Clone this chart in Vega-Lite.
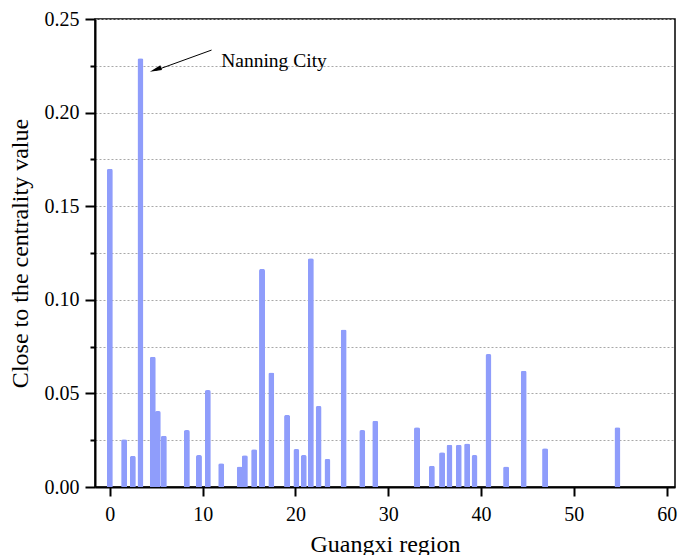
{
  "$schema": "https://vega.github.io/schema/vega-lite/v6.json",
  "width": 580,
  "height": 468,
  "autosize": "none",
  "padding": {"left": 95, "top": 19, "right": 3, "bottom": 68},
  "background": "white",
  "config": {
    "font": "Liberation Serif",
    "view": {"stroke": "black", "strokeWidth": 1.5},
    "axis": {
      "labelFont": "Liberation Serif",
      "titleFont": "Liberation Serif",
      "labelColor": "black",
      "titleColor": "black",
      "titleFontWeight": "normal",
      "domainColor": "black",
      "tickColor": "black",
      "domainWidth": 2,
      "tickWidth": 2
    }
  },
  "datasets": {
    "bars": [
      {"region": 0.0, "value": 0.170},
      {"region": 1.54, "value": 0.0255},
      {"region": 2.48, "value": 0.0166},
      {"region": 3.3, "value": 0.229},
      {"region": 4.63, "value": 0.0696},
      {"region": 5.17, "value": 0.0406},
      {"region": 5.82, "value": 0.0274},
      {"region": 8.3, "value": 0.0304},
      {"region": 9.6, "value": 0.0171},
      {"region": 10.56, "value": 0.0518},
      {"region": 12.0, "value": 0.0127},
      {"region": 14.0, "value": 0.0109},
      {"region": 14.55, "value": 0.0169},
      {"region": 15.55, "value": 0.0201},
      {"region": 16.4, "value": 0.1165},
      {"region": 17.4, "value": 0.0611},
      {"region": 19.1, "value": 0.0385},
      {"region": 20.1, "value": 0.0203},
      {"region": 20.9, "value": 0.0171},
      {"region": 21.66, "value": 0.1222},
      {"region": 22.5, "value": 0.0433},
      {"region": 23.45, "value": 0.015},
      {"region": 25.2, "value": 0.0842},
      {"region": 27.2, "value": 0.0304},
      {"region": 28.6, "value": 0.0354},
      {"region": 33.1, "value": 0.0319},
      {"region": 34.7, "value": 0.0114},
      {"region": 35.8, "value": 0.0185},
      {"region": 36.6, "value": 0.0226},
      {"region": 37.6, "value": 0.0226},
      {"region": 38.5, "value": 0.0233},
      {"region": 39.3, "value": 0.0171},
      {"region": 40.8, "value": 0.071},
      {"region": 42.7, "value": 0.0109},
      {"region": 44.6, "value": 0.0621},
      {"region": 46.9, "value": 0.0207},
      {"region": 54.7, "value": 0.0319}
    ],
    "arrow": [
      {"x": 10.96, "y": 0.2334, "x2": 4.9, "y2": 0.2225}
    ],
    "head": [
      {"x": 4.92, "y": 0.2229}
    ],
    "label": [
      {"x": 12.0, "y": 0.2242, "text": "Nanning City"}
    ]
  },
  "encoding": {
    "x": {
      "type": "quantitative",
      "scale": {"domain": [-1.6, 60.9], "nice": false, "zero": false, "padding": 0},
      "axis": {
        "title": "Guangxi region",
        "values": [0, 10, 20, 30, 40, 50, 60],
        "grid": false,
        "tickSize": 9,
        "labelPadding": 8,
        "labelFontSize": 20,
        "titleFontSize": 24,
        "titlePadding": 8,
        "labelFlush": false,
        "labelOverlap": false
      }
    },
    "y": {
      "type": "quantitative",
      "scale": {"domain": [0, 0.25], "nice": false, "padding": 0},
      "axis": {
        "title": "Close to the centrality value",
        "values": [0, 0.025, 0.05, 0.075, 0.1, 0.125, 0.15, 0.175, 0.2, 0.225, 0.25],
        "labelExpr": "round(datum.value*40) % 2 == 0 ? format(datum.value, '.2f') : ''",
        "tickSize": {"condition": {"test": "round(datum.value*40) % 2 == 0", "value": 10}, "value": 5},
        "grid": true,
        "gridColor": "#a8a8a8",
        "gridDash": [2, 2],
        "gridWidth": 1,
        "labelPadding": 6,
        "labelFontSize": 20,
        "titleFontSize": 24,
        "titlePadding": 12,
        "labelFlush": false,
        "labelOverlap": false
      }
    }
  },
  "layer": [
    {
      "data": {"name": "bars"},
      "mark": {"type": "bar", "size": 6, "color": "#8f9dfb", "cornerRadiusTopLeft": 2, "cornerRadiusTopRight": 2, "orient": "vertical"},
      "encoding": {
        "x": {"field": "region", "type": "quantitative"},
        "y": {"field": "value", "type": "quantitative"}
      }
    },
    {
      "data": {"name": "arrow"},
      "mark": {"type": "rule", "color": "black", "strokeWidth": 1},
      "encoding": {
        "x": {"field": "x", "type": "quantitative"},
        "y": {"field": "y", "type": "quantitative"},
        "x2": {"field": "x2"},
        "y2": {"field": "y2"}
      }
    },
    {
      "data": {"name": "head"},
      "mark": {"type": "point", "shape": "M0,-1L0.42,1L-0.42,1Z", "filled": true, "color": "black", "opacity": 1, "size": 144, "angle": 250.6},
      "encoding": {
        "x": {"field": "x", "type": "quantitative"},
        "y": {"field": "y", "type": "quantitative"}
      }
    },
    {
      "data": {"name": "label"},
      "mark": {"type": "text", "align": "left", "baseline": "alphabetic", "font": "Liberation Serif", "fontSize": 19.5, "color": "black"},
      "encoding": {
        "x": {"field": "x", "type": "quantitative"},
        "y": {"field": "y", "type": "quantitative"},
        "text": {"field": "text"}
      }
    }
  ]
}
